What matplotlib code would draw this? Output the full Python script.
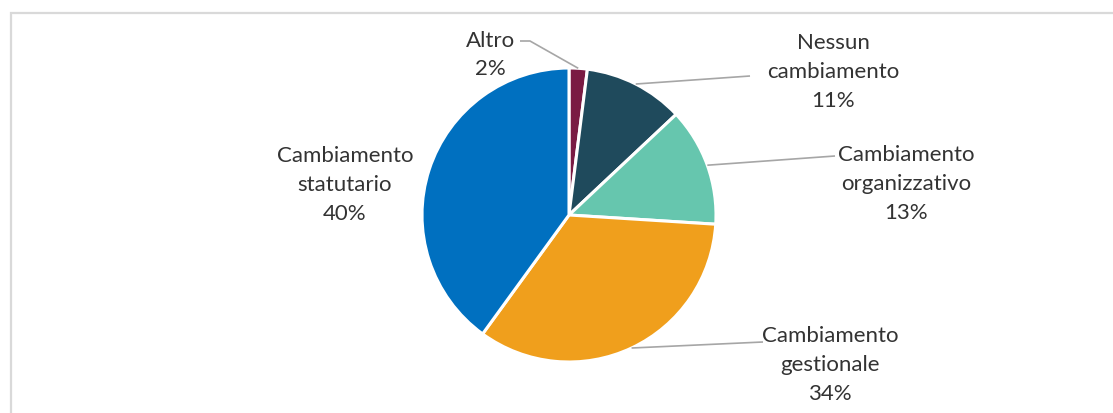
import matplotlib
matplotlib.use("Agg")
import matplotlib.pyplot as plt
from matplotlib.patches import Rectangle
import numpy as np

# Data
labels = ["Altro", "Nessun\ncambiamento", "Cambiamento\norganizzativo",
          "Cambiamento\ngestionale", "Cambiamento\nstatutario"]
shares = [2, 11, 13, 34, 40]
colors = ["#7A1B43", "#1F4A5C", "#66C6AE", "#F09F1C", "#0070C0"]

W, H = 1113, 414
DPI = 100
plt.rcParams["font.family"] = ["Lato", "DejaVu Sans"]

fig = plt.figure(figsize=(W / DPI, H / DPI), dpi=DPI)

# outer chart frame
fig.patches.append(Rectangle((10.5 / W, -0.1), 1.2, (H - 13.5) / H + 0.1,
                             transform=fig.transFigure, fill=False,
                             edgecolor="#d9d9d9", linewidth=1.6))

# pie axes: centre (569, 216) px, radius 147 px
cx, cy, r = 569, 216, 147
ax = fig.add_axes([(cx - r) / W, (H - cy - r) / H, 2 * r / W, 2 * r / H])

wedges, _ = ax.pie(shares, colors=colors, startangle=90, counterclock=False,
                   radius=1, wedgeprops=dict(edgecolor="white", linewidth=2.2))
ax.set_xlim(-1, 1)
ax.set_ylim(-1, 1)
ax.set_aspect("equal")
ax.axis("off")

def px(x, y):
    """pixel position -> pie data coords"""
    return ((x - cx) / r, (cy - y) / r)

# label block centres (px) and leader-line anchors (px), None = no leader
label_pos = [(490, 55), (833, 72), (906, 184), (830, 365), (345, 185)]
leaders = [[(520, 42), (530, 42)], [(750, 77)], [(835, 157)], [(763, 343)], None]

for w, lab, val, pos, lead in zip(wedges, labels, shares, label_pos, leaders):
    tx, ty = px(*pos)
    ax.text(tx, ty, f"{lab}\n{val}%", ha="center", va="center",
            multialignment="center", fontsize=16, color="#333333",
            linespacing=1.55, clip_on=False)
    if lead is not None:
        mid = np.deg2rad((w.theta1 + w.theta2) / 2)
        end = (np.cos(mid), np.sin(mid))
        pts = [px(*p) for p in lead] + [end]
        xs, ys = zip(*pts)
        ax.plot(xs, ys, color="#a6a6a6", linewidth=1.2, clip_on=False,
                solid_capstyle="butt")

fig.savefig("out.png", dpi=DPI)
